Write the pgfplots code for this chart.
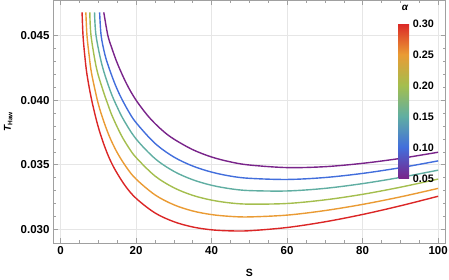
\documentclass[border=0pt]{standalone}
\usepackage{fontspec}
\setmainfont{Liberation Sans}
\usepackage{pgfplots}
\pgfplotsset{compat=1.18}
\definecolor{cA}{RGB}{121,36,138}
\definecolor{cB}{RGB}{66,110,220}
\definecolor{cC}{RGB}{96,174,162}
\definecolor{cD}{RGB}{164,190,78}
\definecolor{cE}{RGB}{234,155,52}
\definecolor{cF}{RGB}{219,38,38}
\definecolor{frm}{RGB}{160,160,160}
\definecolor{grd}{RGB}{230,230,230}
\pgfplotsset{crv/.style={line width=1.4pt, smooth, tension=0.55, mark=none}}
\begin{document}
\begin{tikzpicture}
\begin{axis}[
  name=main,
  scale only axis, width=392.7pt, height=242.5pt,
  xmin=-2, xmax=102, ymin=0.02894, ymax=0.04772,
  xtick={0,20,40,60,80,100}, ytick={0.030,0.035,0.040,0.045},
  minor x tick num=3, minor y tick num=4,
  tick align=inside, major tick length=4.5pt, minor tick length=2.5pt,
  tick style={frm, line width=0.5pt},
  axis line style={frm, line width=0.6pt},
  grid=major, grid style={grd, line width=0.6pt},
  /pgf/number format/assume math mode=true,
  ticklabel style={font=\fontsize{11.5}{13}\selectfont\bfseries},
  scaled y ticks=false,
  yticklabel style={/pgf/number format/fixed, /pgf/number format/precision=3, /pgf/number format/fixed zerofill},
  xlabel={S},
  xlabel style={font=\fontsize{10.5}{12}\selectfont\bfseries, at={(axis description cs:0.5,0)}, anchor=center, yshift=-29.7pt},
  ylabel={{\bfseries\itshape T}\raisebox{-0.3ex}{\fontsize{6.5}{7}\selectfont\bfseries Haw}},
  ylabel style={font=\fontsize{10}{12}\selectfont, at={(axis description cs:0,0.5)}, anchor=center, yshift=44.7pt},
  point meta min=0.05, point meta max=0.30,
  colormap={rb}{rgb255=(121,36,138) rgb255=(66,110,220) rgb255=(96,174,162) rgb255=(164,190,78) rgb255=(234,155,52) rgb255=(219,38,38)},
  colorbar,
  colorbar style={
    scale only axis, width=10.7pt, height=155pt,
    at={(parent axis.north west)}, anchor=north west,
    xshift=337pt, yshift=-22.8pt,
    ytick={0.05,0.1,0.15,0.2,0.25,0.3},
    yticklabel pos=right,
    major tick length=0pt,
    axis line style={draw=none},
    /pgf/number format/assume math mode=true,
    yticklabel style={font=\fontsize{10.8}{12}\selectfont\bfseries, /pgf/number format/fixed, /pgf/number format/precision=2, /pgf/number format/fixed zerofill},
  },
]
% alpha = 0.30
\addplot[cF, crv] coordinates {(5.7,0.0468) (5.95,0.0450) (6.4,0.0435) (7,0.04199) (8.25,0.04000) (10,0.03791) (12,0.03616) (14,0.03485) (17,0.03342) (20,0.03240) (25,0.03127) (30,0.03059) (35,0.03018) (40,0.02996) (45,0.02988) (50,0.02989) (60,0.03014) (70,0.03058) (80,0.03115) (90,0.03182) (100,0.03256)};
% alpha = 0.25
\addplot[cE, crv] coordinates {(6.7,0.0468) (7.0,0.0450) (7.6,0.0434) (8.2,0.0421) (9.75,0.04000) (11,0.03874) (12.85,0.03725) (15,0.03594) (17.5,0.03478) (20,0.03389) (25,0.03267) (30,0.03190) (35,0.03142) (40,0.03114) (45,0.03100) (50,0.03096) (60,0.03110) (70,0.03145) (80,0.03193) (90,0.03251) (100,0.03317)};
% alpha = 0.20
\addplot[cD, crv] coordinates {(7.75,0.0468) (8.07,0.0450) (9.5,0.0425) (11.2,0.0408) (12.5,0.0397) (13.7,0.03876) (16,0.03733) (18,0.03635) (20,0.03556) (25,0.03413) (30,0.03322) (35,0.03263) (40,0.03226) (45,0.03204) (50,0.03195) (60,0.03200) (70,0.03228) (80,0.03271) (90,0.03326) (100,0.03389)};
% alpha = 0.15
\addplot[cC, crv] coordinates {(9.0,0.0468) (9.4,0.0450) (11,0.0427) (13.2,0.0407) (15,0.03947) (16.8,0.03843) (20,0.03700) (25,0.03548) (30,0.03449) (35,0.03384) (40,0.03341) (45,0.03314) (50,0.03300) (60,0.03297) (70,0.03317) (80,0.03354) (90,0.03402) (100,0.03458)};
% alpha = 0.10
\addplot[cB, crv] coordinates {(10.35,0.0468) (10.75,0.0450) (11.8,0.04347) (13,0.04236) (14.5,0.04119) (16,0.04022) (18,0.03914) (20,0.03826) (25,0.03666) (30,0.03560) (35,0.03490) (40,0.03443) (45,0.03412) (50,0.03395) (60,0.03386) (70,0.03401) (80,0.03433) (90,0.03477) (100,0.03530)};
% alpha = 0.05
\addplot[cA, crv] coordinates {(11.45,0.0468) (12.5,0.04505) (13.5,0.04410) (15.1,0.04281) (17.5,0.04126) (20,0.04000) (23.5,0.03866) (27,0.03765) (30,0.03699) (35,0.03617) (40,0.03560) (45,0.03522) (50,0.03498) (60,0.03478) (70,0.03485) (80,0.03511) (90,0.03549) (100,0.03597)};
\node[font=\fontsize{10}{12}\selectfont\bfseries\itshape] at (rel axis cs:0.896,0.968) {α};
\end{axis}
\pgfresetboundingbox
\path ([xshift=-53pt,yshift=-37pt]main.south west) rectangle ([xshift=3.3pt,yshift=0.5pt]main.north east);
\end{tikzpicture}
\end{document}
